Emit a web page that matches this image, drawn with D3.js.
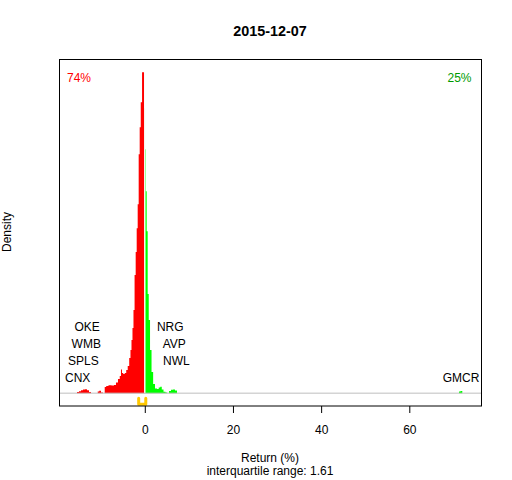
<!DOCTYPE html>
<html>
<head>
<meta charset="utf-8">
<script src="https://cdn.jsdelivr.net/npm/d3@7"></script>
<style>
  body { margin: 0; background: #fff; }
  svg { font-family: "Liberation Sans", Arial, sans-serif; }
</style>
</head>
<body>
<div id="chart"></div>
<script>
const title = "2015-12-07";

// density of returns (%)
const densityX = [
  -15.61, -15.15, -14.70, -14.25, -13.79, -13.34, -12.89, -12.43, -11.98,
  -10.84, -10.50, -10.16, -9.71, -9.26, -8.92, -8.58, -7.89, -7.21, -6.76,
  -6.31, -5.85, -5.51, -5.29, -5.06, -4.72, -4.38, -4.04, -3.70, -3.36,
  -3.13, -2.90, -2.68, -2.45, -2.18, -1.95, -1.72, -1.50, -1.27, -1.04,
  -0.79, -0.45, -0.25, 0,
  0.11, 0.32, 0.54, 0.77, 1.02, 1.36, 1.70, 2.09, 2.54, 2.99, 3.33, 3.68,
  4.02, 4.47, 4.92, 5.26, 5.72, 6.17, 6.62, 7.08, 7.53,
  71.17, 71.39, 71.85, 72.19
];
const densityY = [
  0, 0.0017, 0.0027, 0.0041, 0.0052, 0.0055, 0.0041, 0.0017, 0,
  0, 0.0024, 0.0035, 0.0010, 0, 0.0087, 0.0101, 0.0111, 0.0108, 0.0115,
  0.0150, 0.0199, 0.0241, 0.0332, 0.0283, 0.0269, 0.0283, 0.0325, 0.0381, 0.0494,
  0.0606, 0.0746, 0.0914, 0.1167, 0.1659, 0.1982, 0.2317, 0.2654, 0.3355, 0.3734,
  0.4084, 0.4505, 0.4505, 0.40,
  0.3425, 0.2836, 0.2275, 0.1392, 0.1027, 0.0606, 0.0297, 0.0129, 0.0066, 0.0059, 0.0080, 0.0091,
  0.0052, 0.0021, 0.0010, 0, 0.0031, 0.0048, 0.0052, 0.0038, 0,
  0, 0.0024, 0.0031, 0
];

// extreme movers, bottom row first
const loserNames = ["CNX", "SPLS", "WMB", "OKE"];
const loserReturns = [-15.22, -13.91, -13.27, -13.07];
const winnerNames = ["GMCR", "NWL", "AVP", "NRG"];
const winnerReturns = [71.73, 7.15, 6.67, 5.78];

const shareDown = "74%";
const shareUp = "25%";
const quartiles = [-1.385, 0.225];
const iqrText = "interquartile range: 1.61";
const xTicks = [0, 20, 40, 60];
const xRange = [-15.8, 72.83];

const width = 512;
const height = 480;
const box = { left: 59.5, right: 481.5, top: 59.5, bottom: 406 };

const svg = d3
  .select("#chart")
  .append("svg")
  .attr("width", width)
  .attr("height", height);

// R style 4% padding on both axes
const xPad = (xRange[1] - xRange[0]) * 0.04;
const x = d3
  .scaleLinear()
  .domain([xRange[0] - xPad, xRange[1] + xPad])
  .range([box.left, box.right]);

const yMax = d3.max(densityY);
const y = d3
  .scaleLinear()
  .domain([-yMax * 0.04, yMax * 1.04])
  .range([box.bottom, box.top]);

const points = densityX.map((d, i) => ({ x: d, y: densityY[i] }));

const area = d3
  .area()
  .curve(d3.curveStep)
  .x((d) => x(d.x))
  .y0(y(0))
  .y1((d) => y(d.y));

svg
  .append("path")
  .datum(points.filter((d) => d.x <= 0))
  .attr("fill", "#ff0000")
  .attr("d", area);

svg
  .append("path")
  .datum(points.filter((d) => d.x >= 0))
  .attr("fill", "#00ff00")
  .attr("d", area);

// white divider at zero
svg
  .append("line")
  .attr("x1", x(0))
  .attr("x2", x(0))
  .attr("y1", box.top + 1)
  .attr("y2", y(0))
  .attr("stroke", "#fff")
  .attr("stroke-width", 1.4);

svg
  .append("line")
  .attr("x1", box.left)
  .attr("x2", box.right)
  .attr("y1", y(0))
  .attr("y2", y(0))
  .attr("stroke", "#bebebe")
  .attr("stroke-width", 1);

// quartile bracket under the baseline
const y0 = y(0);
svg
  .append("path")
  .attr(
    "d",
    `M${x(quartiles[0])},${y0 + 5} V${y0 + 11} H${x(quartiles[1])} V${y0 + 5}`
  )
  .attr("fill", "none")
  .attr("stroke", "#ffc800")
  .attr("stroke-width", 3)
  .attr("stroke-linecap", "round")
  .attr("stroke-linejoin", "round");

const rowBaseline = (i) => y0 - 11.3 - 16.8 * i;

const labels = svg.append("g").attr("font-size", 12).attr("text-anchor", "middle");

labels
  .selectAll(".loser")
  .data(loserNames)
  .join("text")
  .attr("class", "loser")
  .attr("x", (d, i) => x(loserReturns[i]))
  .attr("y", (d, i) => rowBaseline(i))
  .text((d) => d);

labels
  .selectAll(".winner")
  .data(winnerNames)
  .join("text")
  .attr("class", "winner")
  .attr("x", (d, i) => x(winnerReturns[i]))
  .attr("y", (d, i) => rowBaseline(i))
  .text((d) => d);

svg
  .append("text")
  .attr("x", box.left + 7.5)
  .attr("y", 82)
  .attr("font-size", 12)
  .attr("fill", "#ff0000")
  .text(shareDown);

svg
  .append("text")
  .attr("x", box.right - 10)
  .attr("y", 82)
  .attr("font-size", 12)
  .attr("text-anchor", "end")
  .attr("fill", "#009a00")
  .text(shareUp);

svg
  .append("rect")
  .attr("x", box.left)
  .attr("y", box.top)
  .attr("width", box.right - box.left)
  .attr("height", box.bottom - box.top)
  .attr("fill", "none")
  .attr("stroke", "#000");

const xAxis = d3.axisBottom(x).tickValues(xTicks).tickSize(7).tickPadding(12);

svg
  .append("g")
  .attr("transform", `translate(0,${box.bottom})`)
  .call(xAxis)
  .call((g) => g.select(".domain").remove())
  .call((g) =>
    g
      .selectAll("text")
      .attr("font-family", "Liberation Sans, Arial, sans-serif")
      .attr("font-size", 12)
      .attr("fill", "#000")
  );

svg
  .append("text")
  .attr("x", 270)
  .attr("y", 36)
  .attr("text-anchor", "middle")
  .attr("font-size", 14.4)
  .attr("font-weight", "bold")
  .text(title);

svg
  .append("text")
  .attr("x", 270)
  .attr("y", 462)
  .attr("text-anchor", "middle")
  .attr("font-size", 12)
  .text("Return (%)");

svg
  .append("text")
  .attr("x", 270)
  .attr("y", 475)
  .attr("text-anchor", "middle")
  .attr("font-size", 12)
  .text(iqrText);

svg
  .append("text")
  .attr("transform", "translate(11,232) rotate(-90)")
  .attr("text-anchor", "middle")
  .attr("font-size", 12)
  .text("Density");
</script>
</body>
</html>
